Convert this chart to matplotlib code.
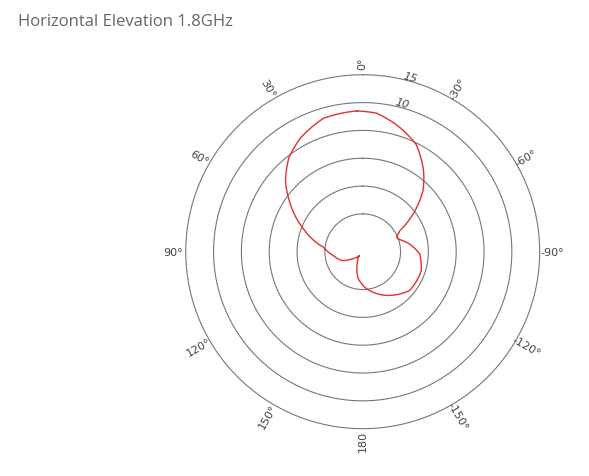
import matplotlib.pyplot as plt
import numpy as np

# pattern: angle (deg, ccw from north) and gain (dB)
angles = [2.4, 16.3, 28.7, 38.2, 47.6, 56.7, 69.1, 83.6, 97.6, 113, 123.6, 139,
          156, 171, 186.1, 208.6, 230.5, 252, 267.7, 279.2, 289.6, 293.8, 299.4,
          306.7, 315.2, 322.9, 333.4, 345.1, 354.3, 362.4]
gain = [8.52, 8.20, 6.50, 4.66, 1.99, -1.26, -5.44, -9.73, -11.50, -12.73,
        -14.44, -15.87, -14.41, -11.85, -10.10, -7.85, -5.85, -5.73, -6.55,
        -8.25, -10.05, -10.16, -9.16, -5.53, -1.44, 1.34, 4.72, 6.81, 8.22, 8.52]
rings = [-10, -5, 0, 5, 10]
ring_labels = ["10", "15"]
label_rings = [10, 15]
tick_angles = [0, 30, 60, 90, 120, 150, 180, -150, -120, -90, -60, -30]
tick_labels = ["0°", "30°", "60°", "90°", "120°", "150°", "180",
               "-150°", "-120°", "-90°", "-60°", "-30°"]

rmin, rmax = -16.8, 15

fig = plt.figure(figsize=(5.89, 4.77), dpi=100)
fig.text(18 / 589, 1 - 22 / 477, "Horizontal Elevation 1.8GHz", fontsize=12,
         color="#666666", family="Open Sans", va="center")

ax = fig.add_axes([0.3153, 0.0992, 0.601, 0.742], projection="polar")
ax.set_theta_zero_location("N")
ax.set_theta_direction(1)
ax.set_ylim(rmin, rmax)
ax.set_xticks([])
ax.set_yticks([])
ax.grid(False)
ax.spines["polar"].set_color("#777777")
ax.spines["polar"].set_linewidth(0.8)

th = np.linspace(0, 2 * np.pi, 400)
for r in rings:
    ax.plot(th, np.full_like(th, r), color="#777777", lw=0.8)
for r, lab in zip(label_rings, ring_labels):
    ax.text(np.deg2rad(-15), r + 0.8, lab, fontsize=8, color="#444444",
            rotation=-15, ha="center", va="center", style="italic")

for a, lab in zip(tick_angles, tick_labels):
    rot = a + 90
    while rot > 90:
        rot -= 180
    while rot <= -90:
        rot += 180
    ax.text(np.deg2rad(a), rmax + 2.2, lab, fontsize=8, color="#444444",
            rotation=rot, ha="center", va="center", rotation_mode="anchor")

line, = ax.plot(np.deg2rad(angles), gain, color="#e03030", lw=1)
line.get_path()._interpolation_steps = 20

fig.savefig("out.png", dpi=100)
